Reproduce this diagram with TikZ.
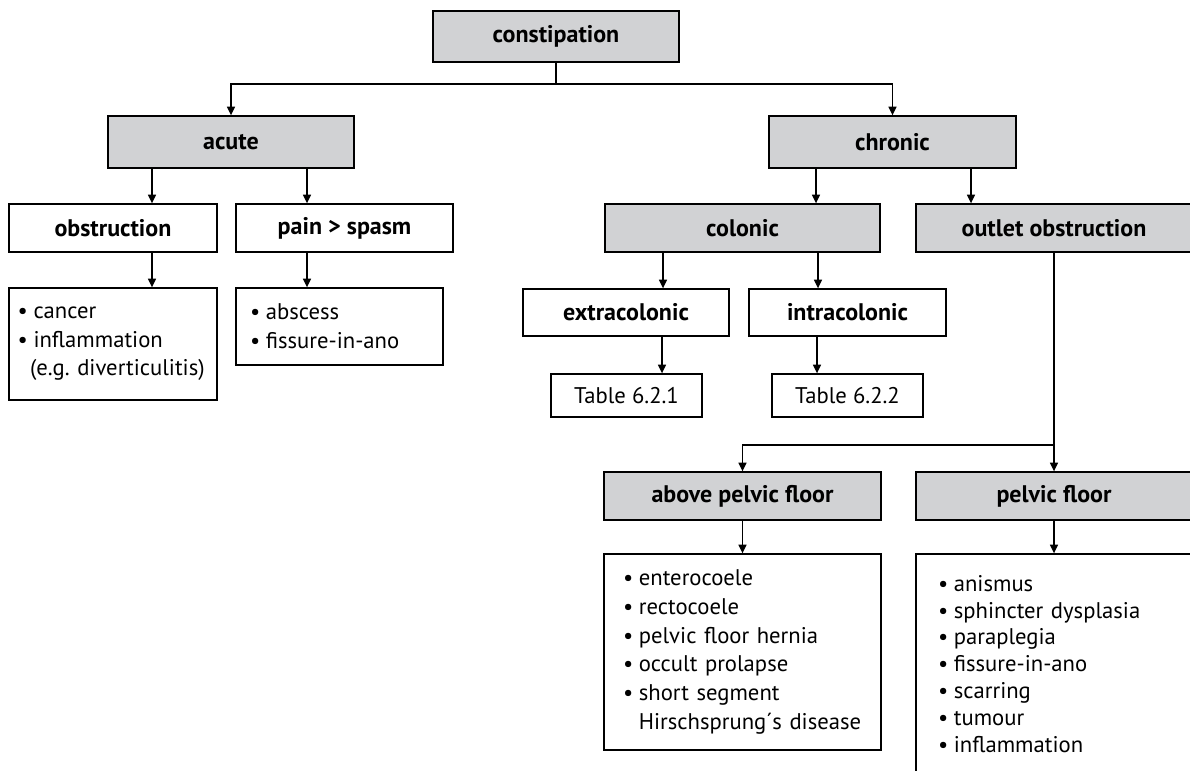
\documentclass[tikz,border=0pt]{standalone}
\usepackage{fontspec}
\setmainfont{PT Sans}
\usetikzlibrary{arrows.meta}
\definecolor{boxgray}{RGB}{209,210,212}
\tikzset{every picture/.style={line width=1pt}}
\tikzset{
  box/.style={draw, fill=white, inner sep=0pt, font=\fontsize{18}{21}\selectfont\bfseries},
  graybox/.style={box, fill=boxgray},
  tablebox/.style={draw, fill=white, inner sep=0pt, font=\fontsize{17}{20}\selectfont},
  listbox/.style={draw, fill=white, align=left, inner ysep=0pt, font=\fontsize{17}{21.5}\selectfont},
  arr/.style={-{Triangle[length=6.5pt,width=6pt]}}
}
\newcommand{\itm}{\makebox[0.7em][l]{\textbullet}}
\newcommand{\cnt}{\hspace*{0.7em}}

\begin{document}
\begin{tikzpicture}[x=0.75pt,y=0.75pt,yscale=-1,xscale=1]
	\useasboundingbox (0,0) rectangle (1190,771);
	
	% Boxes
	\node[graybox, minimum width=184.5pt, minimum height=38.25pt] (const) at (556,36.5) {constipation};
	\node[graybox, minimum width=184.5pt, minimum height=39pt] (acute) at (231,142) {acute};
	\node[graybox, minimum width=185.25pt, minimum height=39pt] (chronic) at (892.5,142) {chronic};
	\node[box, minimum width=156pt, minimum height=36pt] (obstr) at (113,228) {obstruction};
	\node[box, minimum width=162.75pt, minimum height=36pt] (pain) at (344.5,228) {pain > spasm};
	\node[graybox, minimum width=206.25pt, minimum height=36pt] (colonic) at (742.5,228) {colonic};
	\node[graybox, minimum width=207pt, minimum height=36pt] (outlet) at (1054,228) {outlet obstruction};
	\node[box, minimum width=154.5pt, minimum height=35.25pt] (extra) at (626,312.5) {extracolonic};
	\node[box, minimum width=147.75pt, minimum height=35.25pt] (intra) at (847.5,312.5) {intracolonic};
	\node[tablebox, minimum width=113.25pt, minimum height=32.25pt] (tabA) at (626.5,395.5) {Table 6.2.1};
	\node[tablebox, minimum width=113.25pt, minimum height=32.25pt] (tabB) at (847.5,395.5) {Table 6.2.2};
	\node[graybox, minimum width=207.75pt, minimum height=36pt] (above) at (742.5,496) {above pelvic floor};
	\node[graybox, minimum width=207pt, minimum height=36pt] (pelvic) at (1054,496) {pelvic floor};
	
	% Lists
	\node[listbox, text width=143pt, inner xsep=6.5pt, minimum height=84pt] (listObstr) at (113,344)
		{\itm cancer\\ \itm inflammation\\ \hspace*{0.55em}\mbox{(e.g.\ diverticulitis)}};
	\node[listbox, text width=134.25pt, inner xsep=10.5pt, minimum height=57.75pt] (listPain) at (339.5,326.5)
		{\itm abscess\\ \itm fissure-in-ano};
	\node[listbox, text width=179.25pt, inner xsep=14.25pt, minimum height=147pt] (listAbove) at (742.5,652)
		{\itm enterocoele\\ \itm rectocoele\\ \itm pelvic floor hernia\\ \itm occult prolapse\\ \itm short segment\\ \cnt\mbox{Hirschsprung´s disease}};
	\node[listbox, text width=174pt, inner xsep=16.5pt, minimum height=165pt, font=\fontsize{17}{20.2}\selectfont] (listPelvic) at (1054,664)
		{\itm anismus\\ \itm sphincter dysplasia\\ \itm paraplegia\\ \itm fissure-in-ano\\ \itm scarring\\ \itm tumour\\ \itm inflammation};
	
	% Connectors
	\coordinate (split) at (556,84);
	\draw (const.south) -- (split);
	\draw[arr] (split) -| (acute.north);
	\draw[arr] (split) -| (chronic.north);
	\draw[arr] (acute.south -| 152,0) -- (obstr.north -| 152,0);
	\draw[arr] (acute.south -| 307,0) -- (pain.north -| 307,0);
	\draw[arr] (obstr.south -| 152,0) -- (listObstr.north -| 152,0);
	\draw[arr] (pain.south -| 307,0) -- (listPain.north -| 307,0);
	\draw[arr] (chronic.south -| 816,0) -- (colonic.north -| 816,0);
	\draw[arr] (chronic.south -| 971,0) -- (outlet.north -| 971,0);
	\draw[arr] (colonic.south -| 663,0) -- (extra.north -| 663,0);
	\draw[arr] (colonic.south -| 818,0) -- (intra.north -| 818,0);
	\draw[arr] (extra.south -| 662,0) -- (tabA.north -| 662,0);
	\draw[arr] (intra.south -| 817,0) -- (tabB.north -| 817,0);
	\coordinate (fork) at (1054,445);
	\draw[arr] (outlet.south) -- (pelvic.north);
	\draw[arr] (fork) -| (above.north);
	\draw[arr] (above.south) -- (listAbove.north);
	\draw[arr] (pelvic.south) -- (listPelvic.north);
\end{tikzpicture}
\end{document}
